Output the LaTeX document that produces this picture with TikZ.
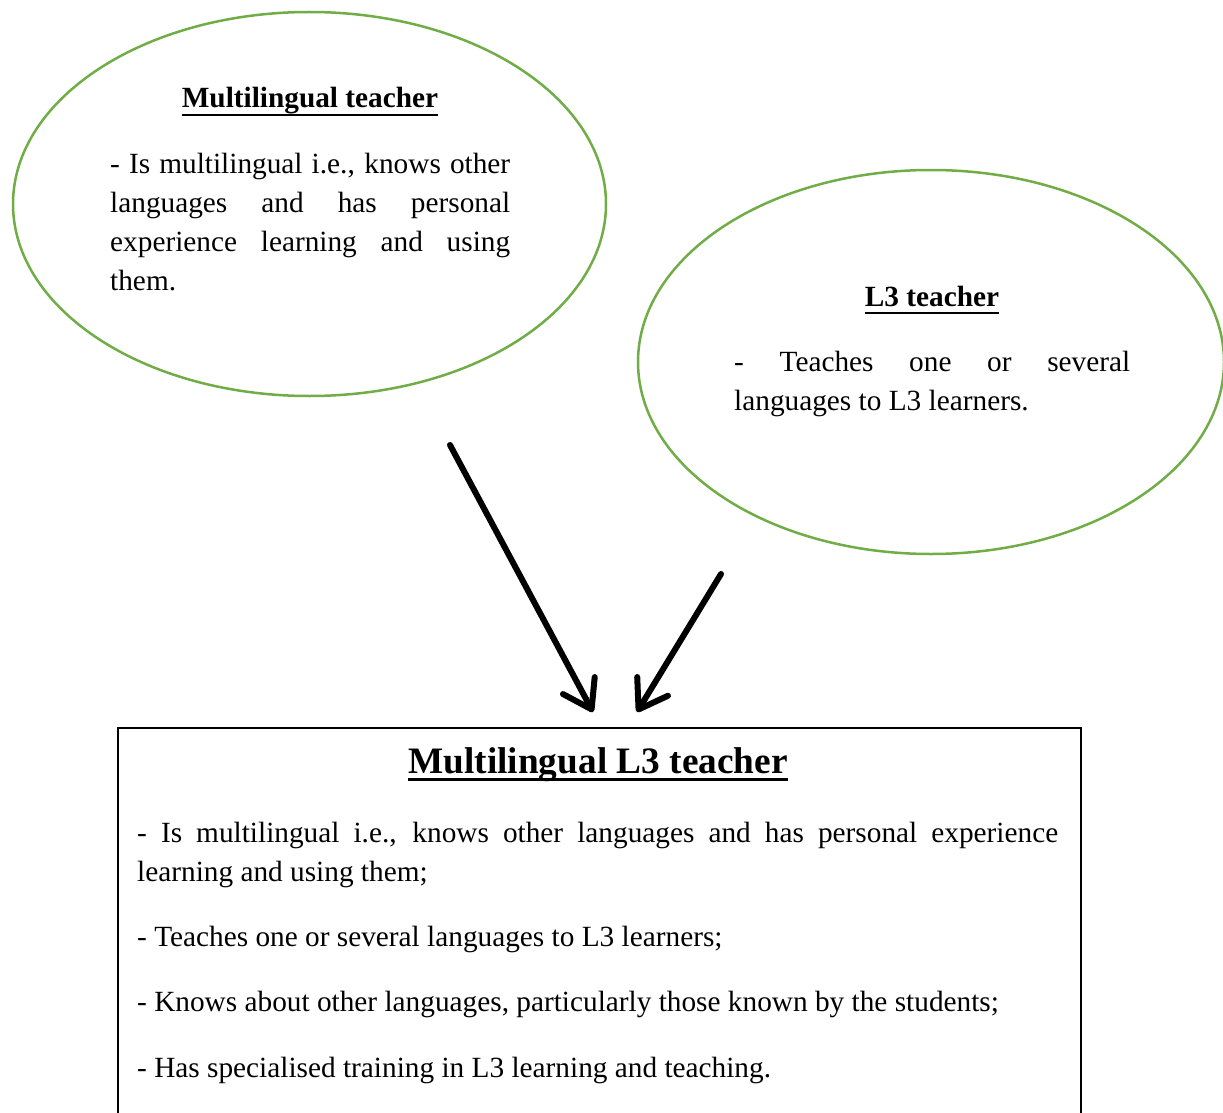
\documentclass[tikz,border=0pt]{standalone}
\usepackage{fontspec}
\setmainfont{Liberation Serif}
\usetikzlibrary{arrows.meta,shapes.geometric}
\definecolor{grn}{HTML}{70AD47}
\newcommand{\thkul}[3]{\setbox0\hbox{#3}\copy0\llap{\rule[-#1]{\wd0}{#2}}}
\tikzset{
  oval/.style={ellipse, draw=grn, line width=2.5pt, inner sep=0pt},
  body/.style={anchor=base west, inner sep=0pt, font=\fontsize{29.3}{39}\selectfont},
  ttl/.style={anchor=base, inner sep=0pt, font=\fontsize{29.3}{39}\selectfont\bfseries},
  bigttl/.style={anchor=base, inner sep=0pt, font=\fontsize{37.3}{48}\selectfont\bfseries},
  bigarrow/.style={line width=6pt, line cap=round, -{Straight Barb[round,length=27pt,width=36pt]}}
}
\begin{document}
\begin{tikzpicture}[x=1pt,y=-1pt]
\useasboundingbox (0,0) rectangle (1223,1113);
% ellipses
\node[oval, minimum width=593pt, minimum height=384pt] (e1) at (309.5,204) {};
\node[oval, minimum width=586pt, minimum height=384pt] (e2) at (931,362) {};
% ellipse 1 text
\node[ttl] (t1) at (310,108) {\thkul{8.3pt}{2.4pt}{Multilingual teacher}};
\node[body] (l11) at (110,173) {\makebox[400pt][s]{- Is multilingual i.e., knows other}};
\node[body] (l12) at (110,212) {\makebox[400pt][s]{languages and has personal}};
\node[body] (l13) at (110,251) {\makebox[400pt][s]{experience learning and using}};
\node[body] (l14) at (110,290) {them.};
% ellipse 2 text
\node[ttl] (t2) at (932,306) {\thkul{8.3pt}{2.4pt}{L3 teacher}};
\node[body] (l21) at (734,371) {\makebox[396pt][s]{- Teaches one or several}};
\node[body] (l22) at (734,410) {languages to L3 learners.};
% box
\node[draw, line width=1.5pt, anchor=north west, minimum width=963pt, minimum height=420pt, inner sep=0pt] (box) at (117,727) {};
\node[bigttl] (t3) at (598,773) {\thkul{8pt}{3pt}{Multilingual L3 teacher}};
\node[body] (b1) at (137,842) {\makebox[921pt][s]{- Is multilingual i.e., knows other languages and has personal experience}};
\node[body] (b2) at (137,881) {learning and using them;};
\node[body] (b3) at (137,946) {- Teaches one or several languages to L3 learners;};
\node[body] (b4) at (137,1011) {- Knows about other languages, particularly those known by the students;};
\node[body] (b5) at (137,1077) {- Has specialised training in L3 learning and teaching.};
% arrows
\coordinate (a1s) at (450,445);
\coordinate (a1e) at (593,712);
\coordinate (a2s) at (721,574);
\coordinate (a2e) at (637,712);
\draw[bigarrow] (a1s) -- (a1e);
\draw[bigarrow] (a2s) -- (a2e);
\end{tikzpicture}
\end{document}
